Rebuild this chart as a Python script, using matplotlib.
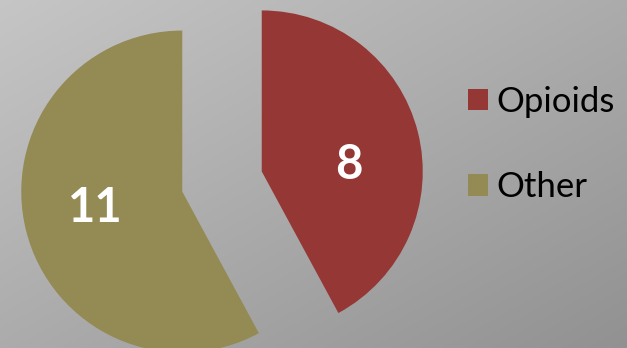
import numpy as np
import matplotlib.pyplot as plt

labels = ['Opioids', 'Other']
values = [8, 11]
colors = ['#953735', '#948a54']

W, H = 627, 348
fig = plt.figure(figsize=(6.27, 3.48), dpi=100)
ax = fig.add_axes([0, 0, 1, 1])

# diagonal grey gradient background, light top-left -> dark bottom-right
u, v = np.meshgrid(np.linspace(0, 1, 300), np.linspace(0, 1, 300))
g = 0.775 - 0.205 * (0.5 * u + 0.5 * v)
ax.imshow(np.dstack([g, g, g]), extent=(0, W, 0, H), origin='upper',
          aspect='auto', zorder=0, interpolation='bilinear')

total = sum(values)
wedges, texts, autotexts = ax.pie(
    values, colors=colors, startangle=90, counterclock=False,
    radius=161, center=(222, 166.5), explode=[41, 41],
    autopct=lambda p: '%d' % round(p * total / 100), pctdistance=0.56,
    textprops=dict(color='white', fontsize=34, fontweight='bold', family='Lato'),
    wedgeprops=dict(linewidth=0))

# small vertical nudges to sit the numbers like the original
for t, dy in zip(autotexts, [-16, 6]):
    x, y = t.get_position()
    t.set_position((x, y + dy))

ax.set_xlim(0, W)
ax.set_ylim(0, H)
ax.set_aspect('equal')
ax.axis('off')

leg = ax.legend(wedges, labels, loc='upper left', bbox_to_anchor=(0.719, 0.804),
                frameon=False, prop=dict(family='Lato', size=25),
                handlelength=0.58, handleheight=0.58, handletextpad=0.22,
                labelspacing=1.54, borderpad=0)

fig.savefig('out.png', dpi=100)
